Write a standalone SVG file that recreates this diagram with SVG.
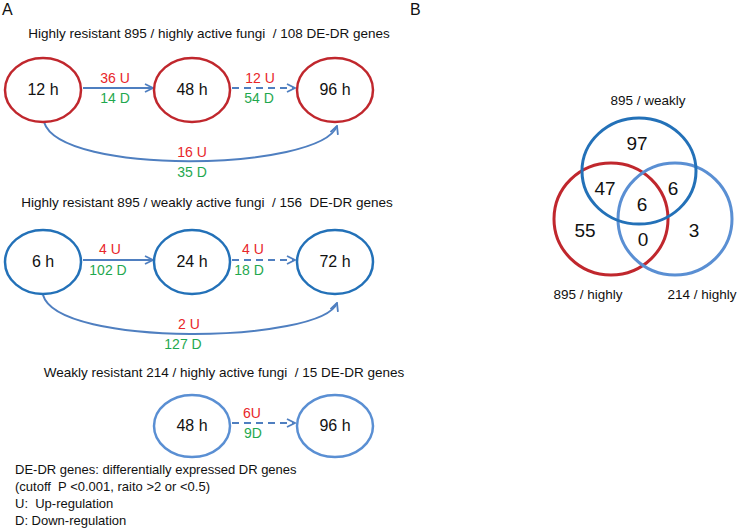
<svg xmlns="http://www.w3.org/2000/svg" width="738" height="530" viewBox="0 0 738 530">
<style>
text{font-family:"Liberation Sans",Arial,sans-serif;fill:#111;white-space:pre}
.lab{font-size:16px}
.title{font-size:13.5px;text-anchor:middle}
.nt{font-size:16px;text-anchor:middle}
.el{font-size:14px;text-anchor:middle}
.u{fill:#e8262a}
.d{fill:#1fa84f}
.leg{font-size:13px}
.vn{font-size:19px;text-anchor:middle}
.vl{font-size:13.5px;text-anchor:middle}
.red{fill:none;stroke:#c0272d;stroke-width:2.5}
.dblue{fill:none;stroke:#2371b8;stroke-width:2.5}
.lblue{fill:none;stroke:#5a8fd3;stroke-width:2.5}
.ar{fill:none;stroke:#4f7fc0;stroke-width:2}
.dash{stroke-dasharray:7 5}
</style>
<defs>
<marker id="ah" viewBox="0 0 10 10" refX="9" refY="5" markerWidth="10" markerHeight="10" markerUnits="userSpaceOnUse" orient="auto">
<path d="M1,1 L9,5 L1,9" fill="none" stroke="#4f7fc0" stroke-width="1.8"/>
</marker>
</defs>
<text class="lab" x="2" y="15">A</text>
<text class="lab" x="410" y="15">B</text>

<text class="title" x="209" y="38" xml:space="preserve">Highly resistant 895 / highly active fungi  / 108 DE-DR genes</text>
<text class="title" x="207" y="207" xml:space="preserve">Highly resistant 895 / weakly active fungi  / 156  DE-DR genes</text>
<text class="title" x="224" y="377" xml:space="preserve">Weakly resistant 214 / highly active fungi  / 15 DE-DR genes</text>

<g id="connectors">
<line class="ar" x1="83" y1="88" x2="153" y2="88" marker-end="url(#ah)"/>
<line class="ar dash" x1="232" y1="88" x2="295" y2="88" marker-end="url(#ah)"/>
<path class="ar" d="M44,122 C60,176 320,171 337,126" marker-end="url(#ah)"/>
<line class="ar" x1="83" y1="260" x2="153" y2="260" marker-end="url(#ah)"/>
<line class="ar dash" x1="232" y1="260" x2="295" y2="260" marker-end="url(#ah)"/>
<path class="ar" d="M43,295 C58,348 322,343 337,303" marker-end="url(#ah)"/>
<line class="ar dash" x1="232" y1="423" x2="295" y2="423" marker-end="url(#ah)"/>
<text class="el u" x="115" y="83">36 U</text>
<text class="el d" x="115" y="103">14 D</text>
<text class="el u" x="260" y="83">12 U</text>
<text class="el d" x="259" y="103">54 D</text>
<text class="el u" x="192" y="157">16 U</text>
<text class="el d" x="192" y="177">35 D</text>
<text class="el u" x="110" y="254">4 U</text>
<text class="el d" x="108" y="275">102 D</text>
<text class="el u" x="253" y="254">4 U</text>
<text class="el d" x="249" y="275">18 D</text>
<text class="el u" x="189" y="329">2 U</text>
<text class="el d" x="183" y="349">127 D</text>
<text class="el u" x="252" y="418">6U</text>
<text class="el d" x="253" y="438">9D</text>
</g>

<g id="n12h"><ellipse class="red" cx="43" cy="90" rx="38" ry="32"/><text class="nt" x="43" y="95">12 h</text></g>
<g id="n48h"><ellipse class="red" cx="192" cy="90" rx="38" ry="32"/><text class="nt" x="192" y="95">48 h</text></g>
<g id="n96h"><ellipse class="red" cx="335" cy="90" rx="38" ry="32"/><text class="nt" x="335" y="95">96 h</text></g>

<g id="n6h"><ellipse class="dblue" cx="43" cy="262" rx="38" ry="32"/><text class="nt" x="43" y="267">6 h</text></g>
<g id="n24h"><ellipse class="dblue" cx="192" cy="262" rx="38" ry="32"/><text class="nt" x="192" y="267">24 h</text></g>
<g id="n72h"><ellipse class="dblue" cx="335" cy="262" rx="38" ry="32"/><text class="nt" x="335" y="267">72 h</text></g>

<g id="w48h"><ellipse class="lblue" cx="192" cy="426" rx="38" ry="31"/><text class="nt" x="192" y="431">48 h</text></g>
<g id="w96h"><ellipse class="lblue" cx="335" cy="426" rx="38" ry="31"/><text class="nt" x="335" y="431">96 h</text></g>

<g id="legend">
<text class="leg" x="15" y="474">DE-DR genes: differentially expressed DR genes</text>
<text class="leg" x="15" y="491" xml:space="preserve">(cutoff  P &lt;0.001, raito &gt;2 or &lt;0.5)</text>
<text class="leg" x="15" y="508" xml:space="preserve">U:  Up-regulation</text>
<text class="leg" x="15" y="525">D: Down-regulation</text>
</g>

<g id="venn">
<ellipse class="red" style="stroke-width:3" cx="611" cy="219" rx="57" ry="56"/>
<ellipse class="lblue" style="stroke-width:3" cx="675" cy="219" rx="57" ry="56"/>
<ellipse class="dblue" style="stroke-width:3" cx="639" cy="171" rx="57" ry="53"/>
<text class="vl" x="648" y="105">895 / weakly</text>
<text class="vl" x="588" y="299">895 / highly</text>
<text class="vl" x="702" y="299">214 / highly</text>
<text class="vn" x="637" y="150">97</text>
<text class="vn" x="605" y="195">47</text>
<text class="vn" x="673" y="195">6</text>
<text class="vn" x="642" y="211">6</text>
<text class="vn" x="585" y="237">55</text>
<text class="vn" x="643" y="246">0</text>
<text class="vn" x="694" y="237">3</text>
</g>
</svg>
